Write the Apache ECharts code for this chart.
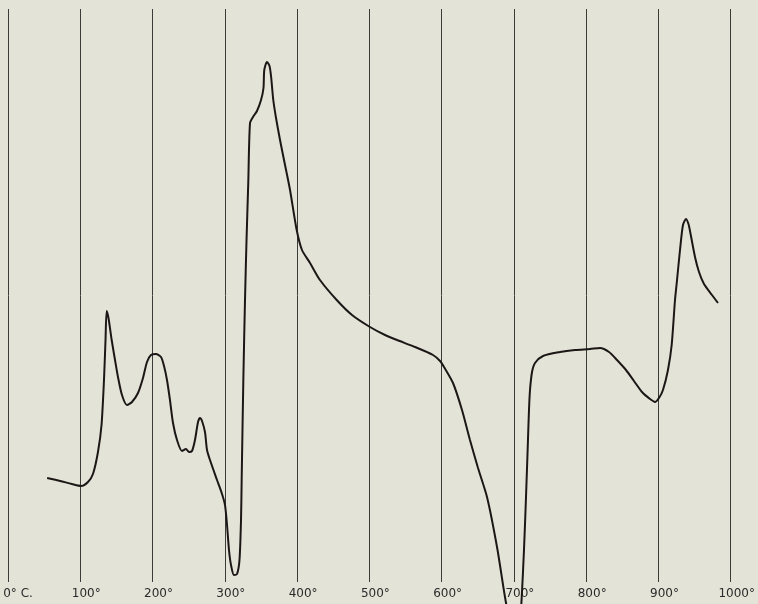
<!DOCTYPE html>
<html>
<head>
<meta charset="utf-8">
<script src="https://cdn.jsdelivr.net/npm/echarts@6/dist/echarts.min.js"></script>
<style>
  html, body { margin: 0; padding: 0; background: #e4e3d7; }
  #chart { width: 758px; height: 604px; }
</style>
</head>
<body>
<div id="chart"></div>
<script>
// temperature (deg C) along the furnace run
const temps = [
  54, 72, 88, 101, 110.3, 117.2, 124.1, 129, 132.4, 134.5, 136.1, 138.6, 143, 147.6, 151.7,
  157.2, 164.1, 171, 179.3, 186.2, 191.7, 197.2, 204.1, 211, 215.2, 219.3, 223.4, 227.6,
  233.1, 240, 245.5, 249.7, 253.8, 257.9, 262.1, 264.8, 267.6, 271.7, 274.5, 278.6, 288.3,
  295.2, 299.3, 302.1, 304.8, 307.6, 311.7, 315.9, 319.3, 321.4, 322.3, 324.6, 326.9, 329,
  331.4, 333.8, 337.9, 343.4, 349, 352.4, 353.5, 357.2, 360.7, 362.8, 365.9, 369.7, 375.2,
  382.1, 389, 398.2, 405.5, 416.6, 430.3, 453.4, 474.5, 499.3, 520, 536.6, 561.4, 586.2,
  595.9, 601.4, 613.8, 626.2, 637.2, 648.3, 660.7, 674.5, 685.5, 693.8, 700.7, 705.5,
  708.6, 711.7, 714.5, 717.2, 718.6, 720, 722.8, 726.9, 737.9, 761.4, 782.1, 802.8, 816.6,
  829, 840, 852.4, 863.4, 874.5, 885.5, 892.4, 897.9, 903.4, 910.3, 915.4, 920, 922.8,
  926.9, 931, 935.2, 938.6, 940.7, 947.6, 953.1, 960, 971, 979.3
]
// differential deflection (arbitrary units, up = exothermic)
const deflection = [
  126, 123, 120, 118, 122, 130, 152, 179, 224, 264, 293, 286, 264, 244, 227,
  209, 199, 202, 211, 226, 242, 249, 250, 247, 238, 224, 204, 181,
  164, 153, 155, 152, 153, 164, 182, 186, 183, 172, 154, 144, 124,
  110, 99, 79, 54, 39, 29, 30, 44, 84, 124, 224, 304, 364,
  421, 481, 487, 493, 504, 516, 534, 542, 538, 528, 504, 486, 464,
  439, 414, 374, 354, 341, 324, 304, 289, 277, 269, 264, 257, 249,
  243, 237, 221, 194, 164, 136, 107, 57, 7, -26, -51, -26,
  7, 54, 107, 164, 194, 214, 232, 241, 248, 252, 254, 255, 256,
  252, 244, 234, 223, 212, 205, 202, 206, 214, 234, 259, 304, 324,
  354, 379, 385, 380, 373, 347, 332, 320, 309, 301
]
const tickTemps = [0, 100, 200, 300, 400, 500, 600, 700, 800, 900, 1000]

const chart = echarts.init(document.getElementById('chart'))
chart.setOption({
  backgroundColor: '#e4e3d7',
  animation: false,
  grid: [
    // grid 0: the ruled temperature lines and labels
    { left: 8, right: 25, top: 9, bottom: 22 },
    // grid 1: the curve, runs to the edge of the sheet
    { left: 8, right: 25, top: 0, bottom: 0 }
  ],
  xAxis: [
    {
      gridIndex: 0,
      type: 'value',
      min: tickTemps[0],
      max: tickTemps[tickTemps.length - 1],
      interval: 100,
      axisLine: { show: false },
      axisTick: { show: false },
      splitLine: {
        show: true,
        lineStyle: { color: '#3c3b38', width: 1 }
      },
      axisLabel: {
        margin: 6,
        padding: [0, 0, 0, 12],
        color: '#2a2a2a',
        fontFamily: 'DejaVu Sans',
        fontSize: 12,
        formatter: function (val) {
          if (val === 0) {
            return '{z|0° C.}'
          }
          return val + '°'
        },
        rich: {
          z: {
            padding: [0, 0, 0, 8],
            color: '#2a2a2a',
            fontFamily: 'DejaVu Sans',
            fontSize: 12
          }
        }
      }
    },
    {
      gridIndex: 1,
      type: 'value',
      min: 0,
      max: 1000,
      show: false
    }
  ],
  yAxis: [
    { gridIndex: 0, type: 'value', show: false },
    { gridIndex: 1, type: 'value', min: 0, max: 604, show: false }
  ],
  series: [{
    type: 'line',
    xAxisIndex: 1,
    yAxisIndex: 1,
    data: temps.map((t, i) => [t, deflection[i]]),
    smooth: 0.25,
    showSymbol: false,
    clip: true,
    lineStyle: {
      color: '#1c1716',
      width: 2
    }
  }]
})
</script>
</body>
</html>
